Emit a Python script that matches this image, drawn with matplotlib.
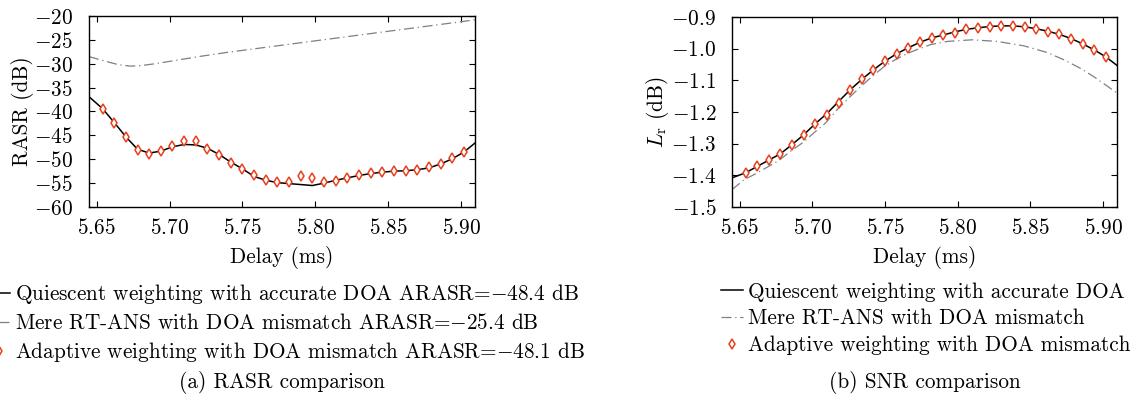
import numpy as np
import matplotlib
matplotlib.use("Agg")
import matplotlib.pyplot as plt

plt.rcParams["font.family"] = "serif"
plt.rcParams["font.serif"] = ["cmr10"]
plt.rcParams["mathtext.fontset"] = "cm"
plt.rcParams["axes.formatter.use_mathtext"] = True
plt.rcParams["font.size"] = 15.3

# -------------------------------
# Data
# -------------------------------
marker_delay = [5.654, 5.662, 5.670, 5.678, 5.686, 5.694, 5.702, 5.710,
                5.718, 5.726, 5.734, 5.742, 5.750, 5.758, 5.766, 5.774,
                5.782, 5.790, 5.798, 5.806, 5.814, 5.822, 5.830, 5.838,
                5.846, 5.854, 5.862, 5.870, 5.878, 5.886, 5.894, 5.902]

# (a) RASR
rasr_line_delay = [5.6447] + marker_delay + [5.9096]
rasr_quiescent = [-36.9, -39.4, -42.3, -45.3, -47.9, -48.7, -48.3, -47.4, -46.9,
                  -47.0, -47.7, -49.0, -50.6, -52.0, -53.6, -54.4, -54.9, -55.1,
                  -55.3, -55.5, -55.0, -54.4, -53.9, -53.4, -53.0, -52.7, -52.5,
                  -52.4, -52.2, -51.8, -51.0, -49.9, -48.5, -46.6]
rasr_mere_delay = [5.6447, 5.655, 5.665, 5.673, 5.680, 5.690, 5.700, 5.720, 5.740,
                   5.760, 5.780, 5.800, 5.820, 5.840, 5.860, 5.880, 5.900, 5.9096]
rasr_mere = [-28.5, -29.4, -30.2, -30.5, -30.4, -30.0, -29.5, -28.5, -27.6,
             -26.8, -26.0, -25.2, -24.4, -23.6, -22.8, -22.0, -21.2, -20.8]
rasr_adaptive = [-39.5, -42.4, -45.4, -48.0, -48.8, -48.2, -47.3, -46.2,
                 -46.2, -47.8, -49.2, -50.7, -52.0, -53.3, -54.3, -54.7,
                 -54.8, -53.5, -53.9, -54.8, -54.5, -53.9, -53.3, -52.9,
                 -52.7, -52.5, -52.5, -52.3, -51.7, -50.9, -49.8, -48.4]

# (b) SNR loss
snr_line_delay = [5.6447] + marker_delay + [5.9096]
snr_quiescent = [-1.408, -1.392, -1.372, -1.352, -1.332, -1.303, -1.272, -1.237,
                 -1.205, -1.167, -1.130, -1.097, -1.067, -1.039, -1.016, -0.997,
                 -0.980, -0.966, -0.957, -0.947, -0.939, -0.934, -0.930, -0.928,
                 -0.928, -0.931, -0.937, -0.945, -0.955, -0.968, -0.985, -1.004,
                 -1.026, -1.053]
snr_mere_delay = [5.6447, 5.653, 5.661, 5.669, 5.677, 5.685, 5.693, 5.701, 5.709,
                  5.717, 5.725, 5.733, 5.741, 5.749, 5.757, 5.765, 5.773, 5.7815,
                  5.793, 5.810, 5.827, 5.8455, 5.8615, 5.873, 5.884, 5.8935, 5.9096]
snr_mere = [-1.445, -1.414, -1.395, -1.374, -1.353, -1.324, -1.298, -1.266,
            -1.235, -1.193, -1.156, -1.121, -1.088, -1.058, -1.035, -1.016,
            -1.001, -0.987, -0.977, -0.972, -0.977, -0.991, -1.012, -1.035,
            -1.061, -1.088, -1.140]
snr_adaptive = [-1.393, -1.372, -1.352, -1.333, -1.303, -1.272, -1.237, -1.208,
                -1.171, -1.131, -1.097, -1.067, -1.039, -1.016, -0.997, -0.980,
                -0.966, -0.958, -0.951, -0.939, -0.934, -0.930, -0.928, -0.928,
                -0.932, -0.938, -0.946, -0.955, -0.969, -0.985, -1.004, -1.026]

xticks = [5.65, 5.70, 5.75, 5.80, 5.85, 5.90]

labels_a = [r"Quiescent weighting with accurate DOA ARASR=$-$48.4 dB",
            r"Mere RT-ANS with DOA mismatch ARASR=$-$25.4 dB",
            r"Adaptive weighting with DOA mismatch ARASR=$-$48.1 dB"]
labels_b = ["Quiescent weighting with accurate DOA",
            "Mere RT-ANS with DOA mismatch",
            "Adaptive weighting with DOA mismatch"]

red = "#e8401c"
gray = "#808080"
dash = (0, (8, 3, 1, 3))

# -------------------------------
# Figure
# -------------------------------
W, H = 1133, 394
fig = plt.figure(figsize=(W / 100, H / 100), dpi=100)
ax1 = fig.add_axes([89 / W, 1 - 207 / H, (475 - 89) / W, (207 - 16) / H])
ax2 = fig.add_axes([732 / W, 1 - 207 / H, (1117 - 732) / W, (207 - 17) / H])


def draw(ax, line_x, line_y, mere_x, mere_y, adapt_y, labels):
    l1, = ax.plot(line_x, line_y, color="black", lw=1.1, label=labels[0])
    l2, = ax.plot(mere_x, mere_y, color=gray, lw=0.9, linestyle=dash, label=labels[1])
    l3, = ax.plot(marker_delay, adapt_y, linestyle="none", marker="d", ms=5.5,
                  mfc="white", mec=red, mew=1.1, label=labels[2])
    ax.set_xlim(5.6447, 5.9096)
    ax.set_xticks(xticks)
    ax.set_xlabel("Delay (ms)", labelpad=6)
    ax.tick_params(direction="in", top=True, right=True, length=4, width=0.8)
    ax.tick_params(axis="x", pad=8)
    ax.tick_params(axis="y", pad=11.5)
    for s in ax.spines.values():
        s.set_linewidth(1.0)
    return [l1, l2, l3]


h1 = draw(ax1, rasr_line_delay, rasr_quiescent, rasr_mere_delay, rasr_mere,
          rasr_adaptive, labels_a)
ax1.set_ylim(-60, -20)
ax1.set_yticks(np.arange(-60, -19, 5))
ax1.set_ylabel("RASR (dB)", labelpad=0)

h2 = draw(ax2, snr_line_delay, snr_quiescent, snr_mere_delay, snr_mere,
          snr_adaptive, labels_b)
ax2.set_ylim(-1.5, -0.9)
ax2.set_yticks([-1.5, -1.4, -1.3, -1.2, -1.1, -1.0, -0.9])
ax2.set_ylabel(r"$L_{\mathrm{r}}$ (dB)", labelpad=0)

leg_kw = dict(loc="upper left", frameon=False, borderpad=0, borderaxespad=0,
              handlelength=1.05, handletextpad=0.22, labelspacing=0.34)
fig.legend(handles=h1, bbox_to_anchor=(-12 / W, 1 - 282 / H), **leg_kw)
fig.legend(handles=h2, bbox_to_anchor=(721 / W, 1 - 282 / H), **leg_kw)

fig.text(282 / W, 1 - 382 / H, "(a) RASR comparison", ha="center", va="center")
fig.text(925 / W, 1 - 382 / H, "(b) SNR comparison", ha="center", va="center")

fig.savefig("out.png", dpi=100)
